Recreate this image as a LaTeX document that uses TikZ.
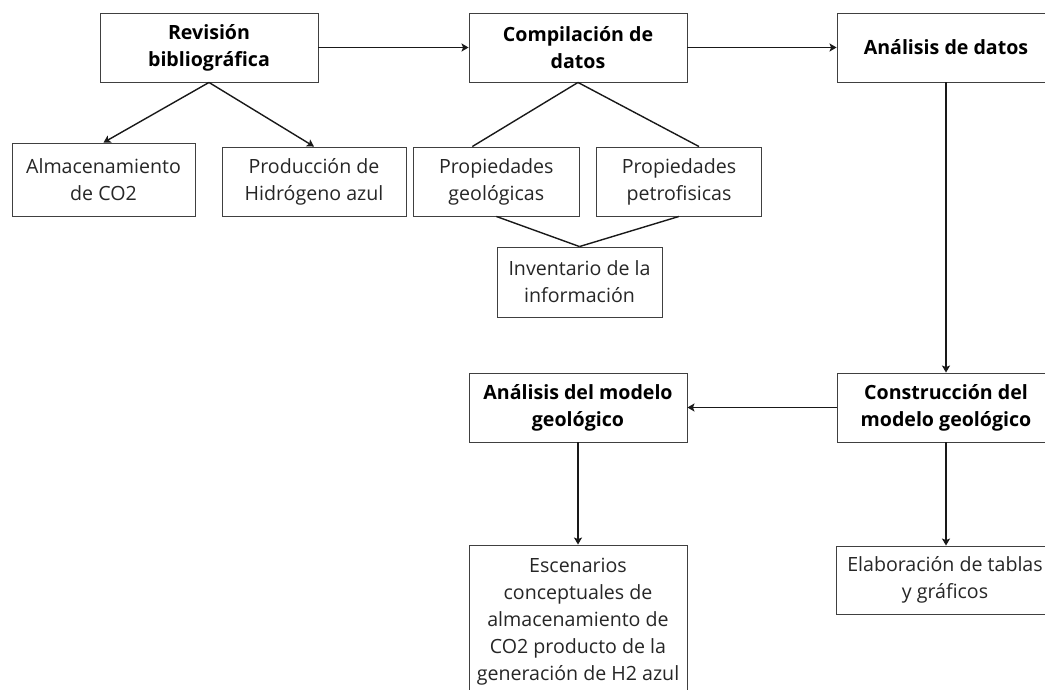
\documentclass[tikz,border=0pt]{standalone}
\usepackage{fontspec}
\setmainfont{Open Sans}
\usetikzlibrary{arrows.meta,calc}
\begin{document}
\begin{tikzpicture}[x=1pt,y=-1pt,
  box/.style={draw=black!75,line width=0.9pt,fill=white,inner sep=0pt,align=center,
    font=\fontsize{19.6}{27}\selectfont,text=black!85},
  hbox/.style={box,font=\fontsize{19.6}{27}\selectfont\bfseries,text=black},
  conn/.style={line width=1.4pt,draw=black!90},
  arr/.style={conn,-{Stealth[length=7pt,width=8pt,inset=1.5pt]}}]
\useasboundingbox (0,0) rectangle (1045,690);
% top row
\node[hbox,minimum width=218pt,minimum height=69pt] (rev) at (209,47.5) {Revisión\\bibliográfica};
\node[hbox,minimum width=218pt,minimum height=69pt] (comp) at (578,47.5) {Compilación de\\datos};
\node[hbox,minimum width=218pt,minimum height=69pt] (anal) at (946,47.5) {Análisis de datos};
% second row
\node[box,minimum width=183pt,minimum height=73pt] (alm) at (103.5,179.5) {Almacenamiento\\de CO2};
\node[box,minimum width=184pt,minimum height=69pt] (prod) at (314,181.5) {Producción de\\Hidrógeno azul};
\node[box,minimum width=166pt,minimum height=69pt] (pgeo) at (496.3,181.5) {Propiedades\\geológicas};
\node[box,minimum width=165pt,minimum height=69pt] (ppet) at (679,181.5) {Propiedades\\petrofisicas};
\node[box,minimum width=165pt,minimum height=70pt] (inv) at (579.5,282) {Inventario de la\\información};
% lower rows
\node[hbox,minimum width=218pt,minimum height=69pt] (amod) at (578,407.5) {Análisis del modelo\\geológico};
\node[hbox,minimum width=218pt,minimum height=69pt] (cons) at (946,407.5) {Construcción del\\modelo geológico};
\node[box,minimum width=218pt,minimum height=68pt] (elab) at (945,580) {Elaboración de tablas\\y gráficos};
\node[box,minimum width=218pt,minimum height=154pt] (esc) at (578,622) {Escenarios\\conceptuales de\\almacenamiento de\\CO2 producto de la\\generación de H2 azul};
% connectors
\draw[arr] (rev.east) -- (comp.west);
\draw[arr] (comp.east) -- (anal.west);
\draw[arr] (rev.south) -- (alm.north);
\draw[arr] (rev.south) -- (prod.north);
\draw[conn] (comp.south) -- ([xshift=-24pt]pgeo.north);
\draw[conn] (comp.south) -- ([xshift=20pt]ppet.north);
\draw[conn] (pgeo.south) -- (inv.north);
\draw[conn] (ppet.south) -- (inv.north);
\draw[arr] (anal.south) -- (cons.north);
\draw[arr] (cons.west) -- (amod.east);
\draw[arr] (amod.south) -- (amod.south |- esc.north);
\draw[arr] (cons.south) -- (cons.south |- elab.north);
\end{tikzpicture}
\end{document}
